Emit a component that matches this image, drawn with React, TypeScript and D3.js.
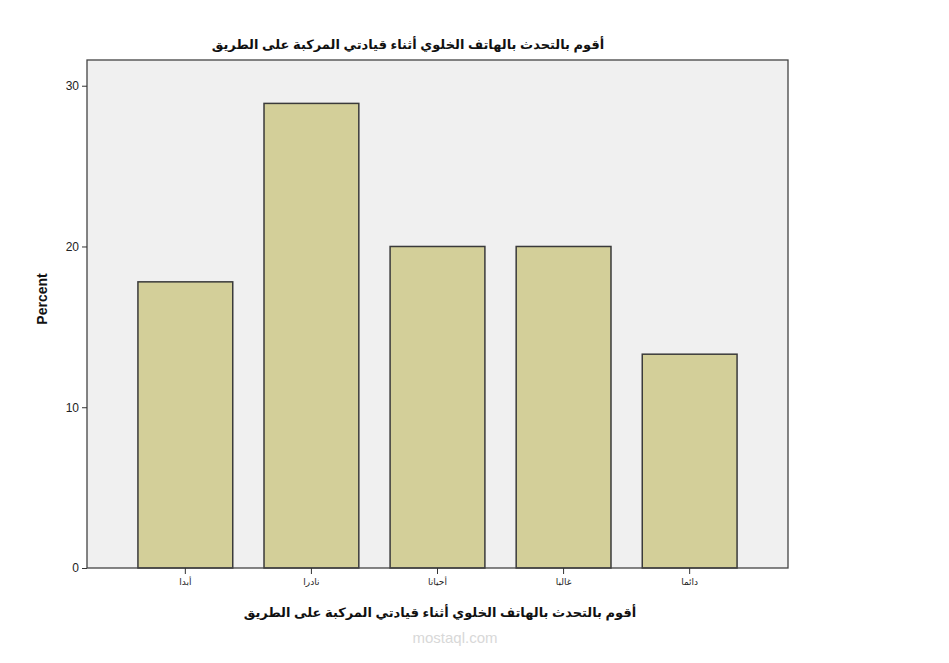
import { useEffect, useRef } from "react"
import * as d3 from "d3"

const categories = ["أبدا", "نادرا", "أحيانا", "غالبا", "دائما"]
const percents = [17.8, 28.9, 20.0, 20.0, 13.3]
const yTicks = [0, 10, 20, 30]
const title = "أقوم بالتحدث بالهاتف الخلوي أثناء قيادتي المركبة على الطريق"
const xTitle = "أقوم بالتحدث بالهاتف الخلوي أثناء قيادتي المركبة على الطريق"
const yTitle = "Percent"

const W = 949, H = 663
const font = "Arial, 'Liberation Sans', 'DejaVu Sans', sans-serif"

export default function App() {
  const ref = useRef<SVGSVGElement>(null)
  useEffect(() => {
    if (!ref.current) return
    const m = { top: 60, right: 161, bottom: 95, left: 87 }
    const iw = W - m.left - m.right
    const ih = H - m.top - m.bottom
    const root = d3.select(ref.current)
    root.selectAll("*").remove()
    root.append("rect").attr("width", W).attr("height", H).attr("fill", "#fff")

    const g = root.append("g").attr("transform", `translate(${m.left},${m.top})`)
    const x = d3.scaleBand().domain(categories).range([0, iw]).paddingInner(0.248).paddingOuter(0.404)
    const y = d3.scaleLinear().domain([0, 31.6]).range([ih, 0])

    g.append("rect").attr("width", iw).attr("height", ih).attr("fill", "#f0f0f0")

    g.selectAll("rect.bar").data(percents).join("rect").attr("class", "bar")
      .attr("x", (_, i) => x(categories[i])!).attr("width", x.bandwidth())
      .attr("y", d => y(d)).attr("height", d => ih - y(d))
      .attr("fill", "#d3cf99").attr("stroke", "#3a3a3a").attr("stroke-width", 1.5)

    g.append("rect").attr("width", iw).attr("height", ih).attr("fill", "none")
      .attr("stroke", "#444").attr("stroke-width", 1.3)

    g.append("g").call(d3.axisLeft(y).tickValues(yTicks).tickSize(5).tickPadding(3))
      .call(a => {
        a.select(".domain").remove()
        a.selectAll("line").attr("stroke", "#333")
        a.selectAll("text").attr("fill", "#222").style("font-size", "12px").style("font-family", font)
      })
    g.append("g").attr("transform", `translate(0,${ih})`).call(d3.axisBottom(x).tickSize(6).tickPadding(5))
      .call(a => {
        a.select(".domain").remove()
        a.selectAll("line").attr("stroke", "#333")
        a.selectAll("text").attr("fill", "#222").style("font-size", "9px").style("font-family", font)
      })

    root.append("text").attr("x", 408).attr("y", 49).attr("text-anchor", "middle")
      .style("font-family", font).style("font-size", "13px").style("font-weight", "bold").attr("fill", "#111")
      .text(title)
    root.append("text").attr("x", 440).attr("y", 617).attr("text-anchor", "middle")
      .style("font-family", font).style("font-size", "13px").style("font-weight", "bold").attr("fill", "#111")
      .text(xTitle)
    root.append("text").attr("transform", `translate(47,${m.top + ih / 2 - 15}) rotate(-90)`).attr("text-anchor", "middle")
      .style("font-family", font).style("font-size", "14px").style("font-weight", "bold").attr("fill", "#111")
      .text(yTitle)
    root.append("text").attr("x", 455).attr("y", 643).attr("text-anchor", "middle")
      .style("font-family", font).style("font-size", "15px").attr("fill", "#d8d8d8")
      .text("mostaql.com")
  }, [])
  return <svg ref={ref} width={W} height={H} style={{ position: "absolute", left: 0, top: 0, display: "block" }} />
}
